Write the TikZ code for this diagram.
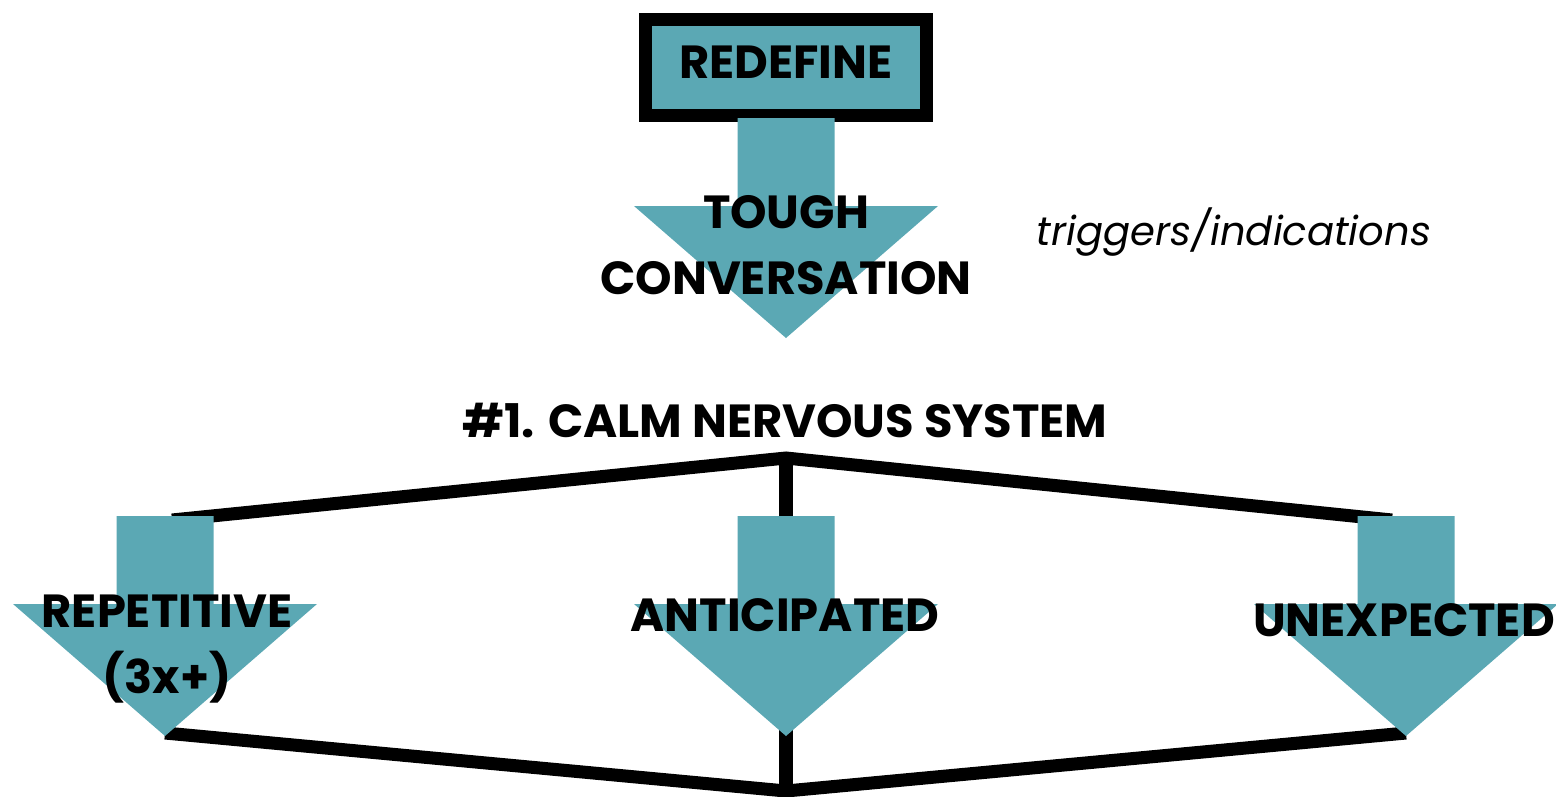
\documentclass[tikz,border=0pt]{standalone}
\usepackage{fontspec}
\setmainfont{Poppins}
\usetikzlibrary{positioning,calc}

\definecolor{tealbox}{RGB}{91,168,180}

% big teal down arrow: #1 = centre x, #2 = top of shaft
\newcommand{\bigdownarrow}[2]{%
  \fill[tealbox] (#1-48.5,#2) -- (#1+48.5,#2) -- (#1+48.5,#2+88) -- (#1+152,#2+88)
    -- (#1,#2+220) -- (#1-152,#2+88) -- (#1-48.5,#2+88) -- cycle;}

\begin{document}
\begin{tikzpicture}[x=0.01cm, y=-0.01cm,
    caps/.style={font=\bfseries\fontsize{13.2}{18.8}\selectfont, inner sep=0pt, align=center},
    link/.style={line width=0.13cm, line join=miter},
    topbox/.style={draw, line width=0.13cm, fill=tealbox, minimum width=2.8cm, minimum height=0.96cm, inner sep=0pt}
  ]
    \path[use as bounding box, clip] (0,0) rectangle (1556,796);

    \coordinate (apex) at (786,458);
    \coordinate (leftend) at (172,520);
    \coordinate (rightend) at (1392,520);
    \coordinate (midshaft) at (786,516);
    \coordinate (lefttip) at (165,733);
    \coordinate (midtip) at (786,730);
    \coordinate (righttip) at (1406,733);
    \coordinate (bottom) at (786,791);
    \coordinate (offpage) at (786,810);

    % connectors behind the arrows
    \draw[link] (leftend) -- (apex) -- (rightend);
    \draw[link] (apex) -- (midshaft);
    \draw[link] (lefttip) -- (bottom) -- (righttip);
    \draw[link] (midtip) -- (offpage);

    \node[topbox] (redefine) at (786,67.5) {};
    \bigdownarrow{786}{118}
    \bigdownarrow{165}{516}
    \bigdownarrow{786}{516}
    \bigdownarrow{1406}{516}

    \node[caps] (redefinetxt) at (786,62) {REDEFINE};
    \node[caps] (tough) at (786,245) {TOUGH\\CONVERSATION};
    \node[caps] (calm) at (785,420) {\#1. CALM NERVOUS SYSTEM};
    \node[font=\itshape\fontsize{11.4}{14}\selectfont, inner sep=0pt] (triggers) at (1234,232) {triggers/indications};

    \node[caps] (repetitive) at (167,649) {REPETITIVE\\(3x+)};
    \node[caps] (anticipated) at (785,615) {ANTICIPATED};
    \node[caps] (unexpected) at (1404,620) {UNEXPECTED};
\end{tikzpicture}
\end{document}
